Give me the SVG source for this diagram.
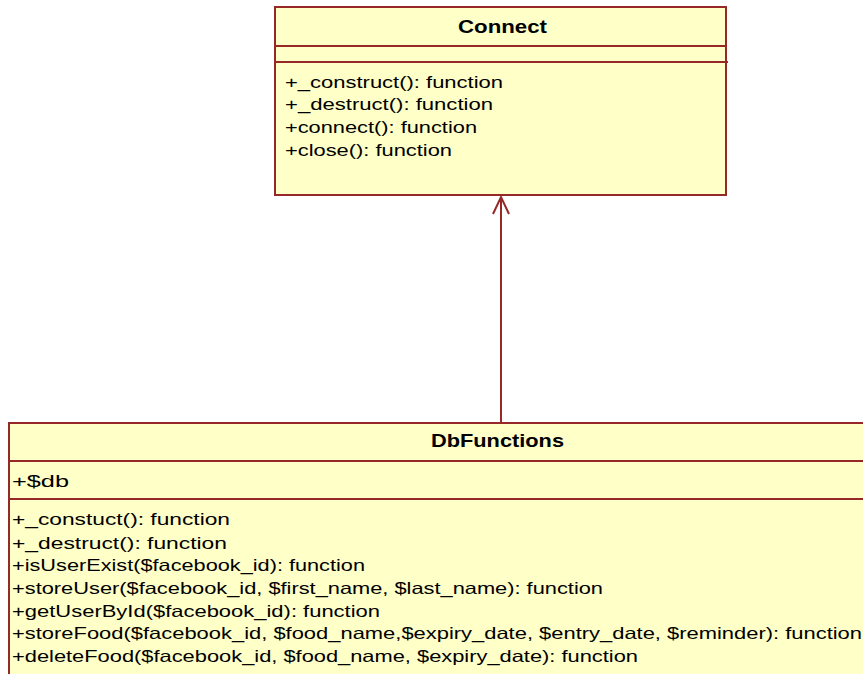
<svg xmlns="http://www.w3.org/2000/svg" width="863" height="674" viewBox="0 0 863 674">
<style>
.box{fill:#FFFFC8;stroke:#962828;stroke-width:2}
.ln{stroke:#962828;stroke-width:2;fill:none}
.t{font-family:"Liberation Sans",Arial,sans-serif;font-size:16.5px;fill:#000}
.h{font-family:"Liberation Sans",Arial,sans-serif;font-size:18px;font-weight:bold;fill:#000}
</style>
<rect width="863" height="674" fill="#FFFFFF"/>
<g id="connectors">
<line class="ln" x1="501" y1="422" x2="501" y2="197"/>
<polyline class="ln" points="493,214 501,197 509,214"/>
</g>
<g id="Connect">
<rect class="box" x="275" y="7" width="451" height="188"/>
<line class="ln" x1="275" y1="46" x2="726" y2="46"/>
<line class="ln" x1="275" y1="62" x2="728" y2="62"/>
<text class="h" x="458" y="33" textLength="89" lengthAdjust="spacingAndGlyphs">Connect</text>
<text class="t" x="285" y="88" textLength="218" lengthAdjust="spacingAndGlyphs">+_construct(): function</text>
<text class="t" x="285" y="110" textLength="208" lengthAdjust="spacingAndGlyphs">+_destruct(): function</text>
<text class="t" x="285" y="133" textLength="192" lengthAdjust="spacingAndGlyphs">+connect(): function</text>
<text class="t" x="285" y="156" textLength="167" lengthAdjust="spacingAndGlyphs">+close(): function</text>
</g>
<g id="DbFunctions">
<rect class="box" x="9" y="423" width="870" height="270"/>
<line class="ln" x1="9" y1="461" x2="863" y2="461"/>
<line class="ln" x1="9" y1="499" x2="863" y2="499"/>
<text class="h" x="431" y="447" textLength="133" lengthAdjust="spacingAndGlyphs">DbFunctions</text>
<text class="t" x="12" y="487" textLength="57" lengthAdjust="spacingAndGlyphs">+$db</text>
<text class="t" x="12" y="525" textLength="218" lengthAdjust="spacingAndGlyphs">+_constuct(): function</text>
<text class="t" x="12" y="549" textLength="215" lengthAdjust="spacingAndGlyphs">+_destruct(): function</text>
<text class="t" x="12" y="571" textLength="353" lengthAdjust="spacingAndGlyphs">+isUserExist($facebook_id): function</text>
<text class="t" x="12" y="594" textLength="591" lengthAdjust="spacingAndGlyphs">+storeUser($facebook_id, $first_name, $last_name): function</text>
<text class="t" x="12" y="617" textLength="368" lengthAdjust="spacingAndGlyphs">+getUserById($facebook_id): function</text>
<text class="t" x="12" y="639" textLength="850" lengthAdjust="spacingAndGlyphs">+storeFood($facebook_id, $food_name,$expiry_date, $entry_date, $reminder): function</text>
<text class="t" x="12" y="662" textLength="626" lengthAdjust="spacingAndGlyphs">+deleteFood($facebook_id, $food_name, $expiry_date): function</text>
</g>
</svg>
